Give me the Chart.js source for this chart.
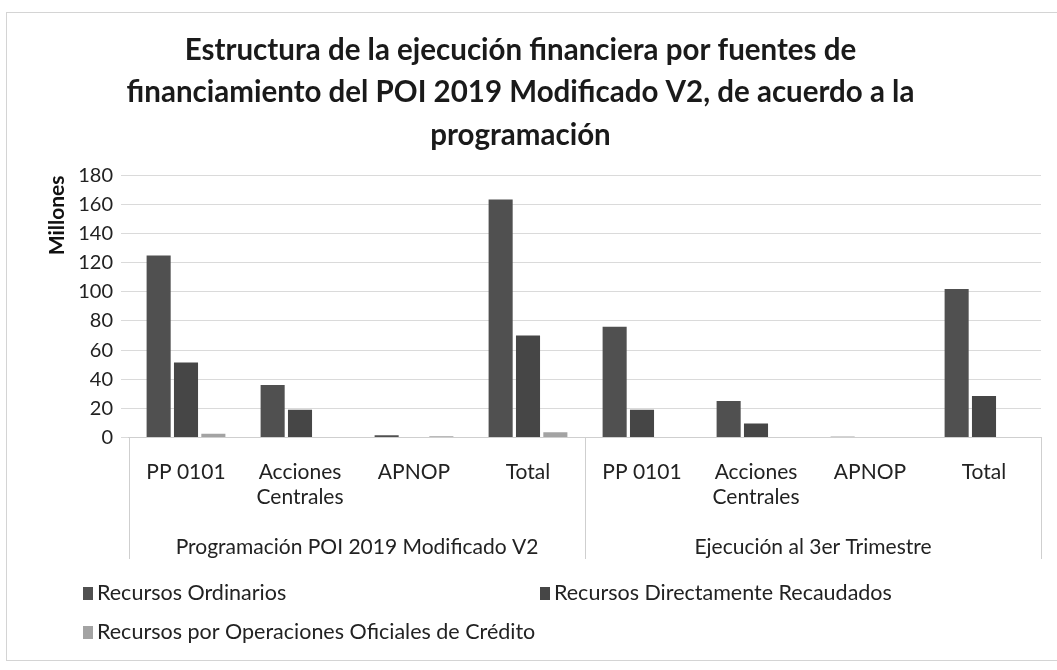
<!DOCTYPE html>
<html>
<head>
<meta charset="utf-8">
<script src="https://cdn.jsdelivr.net/npm/chart.js@4"></script>
<style>
  body { margin: 0; background: #fff; }
  #wrap { position: relative; width: 1057px; height: 670px; }
</style>
</head>
<body>
<div id="wrap"><canvas id="grafico"></canvas></div>
<script>
const categorias = ['PP 0101', ['Acciones', 'Centrales'], 'APNOP', 'Total', 'PP 0101', ['Acciones', 'Centrales'], 'APNOP', 'Total'];
const grupos = ['Programación POI 2019 Modificado V2', 'Ejecución al 3er Trimestre'];
const recursosOrdinarios = [125, 36, 1.5, 163.5, 76, 25, 0.5, 102];
const recursosDirectamente = [51.5, 19, 0, 70, 19, 9.5, 0, 28.5];
const recursosCredito = [2.5, 0, 0.8, 3.5, 0, 0, 0, 0];
const yTicks = [0, 20, 40, 60, 80, 100, 120, 140, 160, 180];

const fuente = 'Lato, "Open Sans", sans-serif';

// marco, separadores del eje de categorias y leyenda en dos columnas
const extras = {
  id: 'extras',
  beforeDraw(chart) {
    const c = chart.ctx;
    c.save();
    c.strokeStyle = '#d4d4d4';
    c.lineWidth = 1;
    c.strokeRect(6.5, 12.5, 1060, 648);
    c.restore();
  },
  afterDraw(chart) {
    const c = chart.ctx;
    const x = chart.scales.x, x2 = chart.scales.x2;
    const mid = (x.getPixelForValue(3) + x.getPixelForValue(4)) / 2;
    c.save();
    c.strokeStyle = '#cfcfcf';
    c.lineWidth = 1;
    [x.left, mid, x.right].forEach(px => {
      c.beginPath();
      c.moveTo(Math.round(px) + 0.5, chart.chartArea.bottom);
      c.lineTo(Math.round(px) + 0.5, x2.bottom - 4);
      c.stroke();
    });
    // leyenda
    const pos = [[83, 593], [540, 593], [83, 632]];
    c.font = '21.5px ' + fuente;
    c.textBaseline = 'middle';
    chart.data.datasets.forEach((ds, i) => {
      const [lx, ly] = pos[i];
      c.fillStyle = ds.backgroundColor;
      c.fillRect(lx, ly - 6, 10, 13);
      c.fillStyle = '#222';
      c.fillText(ds.label, lx + 14, ly);
    });
    c.restore();
  }
};

new Chart(document.getElementById('grafico'), {
  type: 'bar',
  data: {
    labels: categorias,
    datasets: [
      { label: 'Recursos Ordinarios', data: recursosOrdinarios, backgroundColor: '#505050' },
      { label: 'Recursos Directamente Recaudados', data: recursosDirectamente, backgroundColor: '#464646' },
      { label: 'Recursos por Operaciones Oficiales de Crédito', data: recursosCredito, backgroundColor: '#a3a3a3' }
    ]
  },
  options: {
    responsive: true,
    maintainAspectRatio: false,
    animation: false,
    categoryPercentage: 0.72,
    barPercentage: 0.88,
    layout: { padding: { left: 0, right: 16, top: 0, bottom: 107 } },
    plugins: {
      legend: { display: false },
      tooltip: { enabled: false },
      title: {
        display: true,
        text: ['Estructura de la ejecución financiera por fuentes de',
               'financiamiento del POI 2019 Modificado V2, de acuerdo a la',
               'programación'],
        color: '#1a1a1a',
        font: { family: fuente, size: 29.5, weight: 'bold', lineHeight: 1.44 },
        padding: { top: 29, bottom: 19 }
      }
    },
    scales: {
      x: {
        grid: { display: false },
        border: { display: true, color: '#cfcfcf' },
        ticks: { color: '#222', font: { family: fuente, size: 21 }, maxRotation: 0, autoSkip: false, padding: 14 }
      },
      x2: {
        type: 'category',
        labels: grupos,
        position: 'bottom',
        offset: true,
        grid: { display: false },
        border: { display: false },
        ticks: { color: '#222', font: { family: fuente, size: 21 }, padding: 3 }
      },
      y: {
        min: 0,
        max: 180,
        afterBuildTicks: axis => { axis.ticks = yTicks.map(v => ({ value: v })); },
        grid: { color: '#dadada' },
        border: { display: false },
        ticks: { color: '#222', font: { family: fuente, size: 20 }, padding: 8 },
        title: { display: true, text: 'Millones', align: 'end', color: '#111', padding: { top: 45, bottom: 0 }, font: { family: fuente, size: 21, weight: 'bold' } }
      }
    }
  },
  plugins: [extras]
});
</script>
</body>
</html>
